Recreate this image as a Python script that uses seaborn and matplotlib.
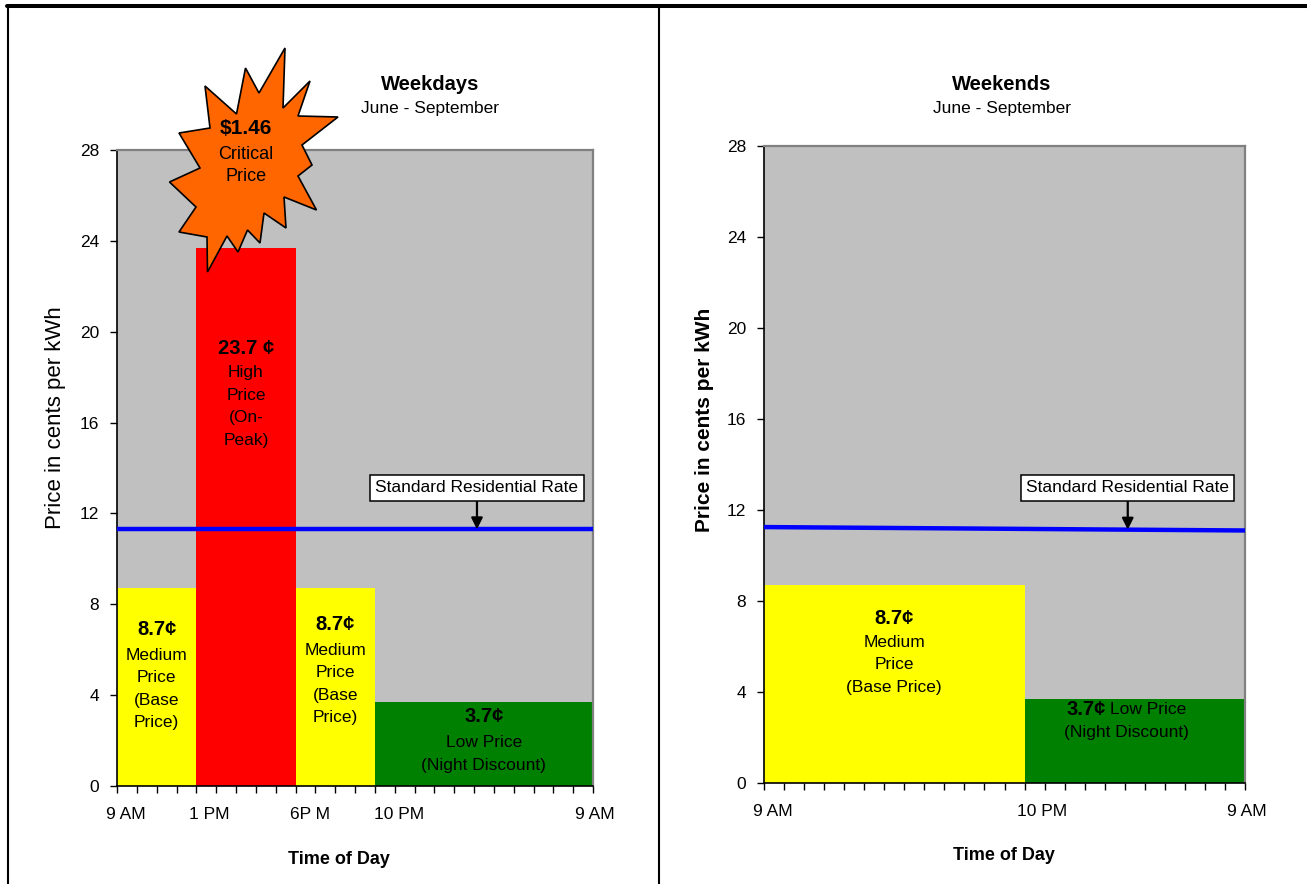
import numpy as np
import matplotlib
matplotlib.use("Agg")
import matplotlib.pyplot as plt
import seaborn as sns
from matplotlib.patches import Polygon
from matplotlib.lines import Line2D
from matplotlib.transforms import ScaledTranslation

# ---- data -------------------------------------------------------------
# Summer (June - September) time-of-use periods, as clock hours from 9 AM to 9 AM next day
weekday_edges = [9, 13, 18, 22, 33]
weekday_prices = [8.7, 23.7, 8.7, 3.7]          # cents per kWh
weekday_colors = ["#FFFF00", "#FF0000", "#FFFF00", "#008000"]
weekday_names = ["Medium\nPrice\n(Base\nPrice)", "High\nPrice\n(On-\nPeak)",
                 "Medium\nPrice\n(Base\nPrice)", "Low Price\n(Night Discount)"]
weekday_unit = ["¢", " ¢", "¢", "¢"]

weekend_edges = [9, 22, 33]
weekend_prices = [8.7, 3.7]
weekend_colors = ["#FFFF00", "#008000"]

# Standard residential rate (cents per kWh) across the day
weekday_standard = [11.3, 11.3]
weekend_standard = [11.25, 11.1]

critical_price = 1.46  # dollars per kWh

weekday_tick_hours = [9, 13, 18, 22, 33]
weekday_tick_labels = ["9 AM", "1 PM", "6P M", "10 PM", "9 AM"]
weekend_tick_hours = [9, 22, 33]
weekend_tick_labels = ["9 AM", "10 PM", "9 AM"]
y_ticks = [0, 4, 8, 12, 16, 20, 24, 28]

# ---- styling ----------------------------------------------------------
sns.set_theme(style="white")
plt.rcParams["font.family"] = ["Liberation Sans", "DejaVu Sans"]
plt.rcParams["text.color"] = "black"
plt.rcParams["axes.labelcolor"] = "black"
plt.rcParams["xtick.color"] = "black"
plt.rcParams["ytick.color"] = "black"

W, H = 1307, 884
fig = plt.figure(figsize=(W / 100, H / 100), dpi=100)
fig.patch.set_facecolor("white")


def fx(px):
    return px / W


def fy(py):
    return 1 - py / H


axL = fig.add_axes([fx(117), fy(786), (593 - 117) / W, (786 - 150) / H])
axR = fig.add_axes([fx(764), fy(783), (1245 - 764) / W, (783 - 146) / H])


def style_axes(ax, tick_hours, tick_labels, label_shift_px):
    ax.set_facecolor("#C0C0C0")
    ax.set_xlim(0, 24)
    ax.set_ylim(0, 28)
    for s in ["top", "right"]:
        ax.spines[s].set_color("#808080")
        ax.spines[s].set_linewidth(1.6)
        ax.spines[s].set_visible(True)
    for s in ["left", "bottom"]:
        ax.spines[s].set_color("black")
        ax.spines[s].set_linewidth(1.2)
        ax.spines[s].set_visible(True)
    ax.set_yticks(y_ticks)
    ax.set_yticklabels([str(v) for v in y_ticks])
    ax.set_xticks([h - 9 for h in tick_hours])
    ax.set_xticklabels(tick_labels)
    ax.set_xticks(np.arange(0, 25), minor=True)
    ax.tick_params(axis="both", which="both", direction="out", length=5,
                   width=1, color="black", labelsize=12.5, labelcolor="black")
    ax.tick_params(axis="x", which="both", bottom=True, pad=10)
    ax.tick_params(axis="y", which="major", left=True, pad=8)
    ax.set_xlabel("")
    ax.set_ylabel("")
    ax.grid(False)
    for lbl, dx in zip(ax.get_xticklabels(), label_shift_px):
        lbl.set_transform(lbl.get_transform() + ScaledTranslation(dx / 100, 0, fig.dpi_scale_trans))


def draw_periods(ax, edges, prices, colors):
    starts = np.array(edges[:-1]) - 9
    widths = np.diff(edges)
    ax.bar(starts, prices, width=widths, align="edge", color=colors,
           edgecolor="none", linewidth=0, zorder=2)
    return starts + widths / 2


def draw_standard(ax, rate, arrow_x, box_y):
    sns.lineplot(x=[0, 24], y=rate, ax=ax, color="#0000FF", linewidth=3.2,
                 zorder=3, legend=False)
    tip = np.interp(arrow_x, [0, 24], rate)
    ax.annotate("Standard Residential Rate", xy=(arrow_x, tip), xytext=(arrow_x, box_y),
                ha="center", va="center", fontsize=12.5, zorder=6,
                bbox=dict(boxstyle="square,pad=0.3", fc="white", ec="black", lw=1.1),
                arrowprops=dict(arrowstyle="-|>", color="black", lw=1.6,
                                mutation_scale=17, shrinkA=0, shrinkB=0))


DESC_SPACING = 1.63

# ---- weekdays ---------------------------------------------------------
centers = draw_periods(axL, weekday_edges, weekday_prices, weekday_colors)
draw_standard(axL, weekday_standard, 18.15, 13.12)
style_axes(axL, weekday_tick_hours, weekday_tick_labels, [9, 13, 15, 24, 2])

value_y = [6.87, 19.28, 7.09, 3.04]
name_y = [4.27, 16.71, 4.49, 1.41]
for cx, p, unit, name, vy, ny in zip(centers, weekday_prices, weekday_unit,
                                     weekday_names, value_y, name_y):
    axL.text(cx, vy, f"{p:.1f}{unit}", ha="center", va="center",
             fontsize=14.5, fontweight="bold", color="black", zorder=5)
    axL.text(cx, ny, name, ha="center", va="center", fontsize=12.5,
             linespacing=DESC_SPACING, color="black", zorder=5)

# ---- weekends ---------------------------------------------------------
centers = draw_periods(axR, weekend_edges, weekend_prices, weekend_colors)
draw_standard(axR, weekend_standard, 18.15, 12.97)
style_axes(axR, weekend_tick_hours, weekend_tick_labels, [9, 18, 2])

axR.text(centers[0], 7.21, f"{weekend_prices[0]:.1f}¢", ha="center", va="center",
         fontsize=14.5, fontweight="bold", color="black", zorder=5)
axR.text(centers[0], 5.19, "Medium\nPrice\n(Base Price)", ha="center", va="center",
         fontsize=12.5, linespacing=DESC_SPACING, color="black", zorder=5)
axR.text(centers[1] - 1.43, 3.25, f"{weekend_prices[1]:.1f}¢", ha="right", va="center",
         fontsize=14.5, fontweight="bold", color="black", zorder=5)
axR.text(centers[1] - 1.23, 3.25, "Low Price", ha="left", va="center",
         fontsize=12.5, color="black", zorder=5)
axR.text(centers[1] - 0.4, 2.2, "(Night Discount)", ha="center", va="center",
         fontsize=12.5, color="black", zorder=5)

# ---- critical-price burst ---------------------------------------------
burst_outline = [
    (285, 48), (283, 108), (310, 81), (298, 116), (338, 117), (302, 145),
    (312, 165), (298, 176), (316.5, 210), (284, 197), (286, 228), (264, 213),
    (260, 243), (247.5, 230), (238, 252), (227, 236), (207.5, 272), (207, 237),
    (179, 232), (196, 207), (169.5, 182), (200, 168), (179, 133), (210, 128),
    (205, 86), (236.5, 114), (245.5, 68), (259, 93),
]
burst = Polygon([(fx(x), fy(y)) for x, y in burst_outline], closed=True,
                transform=fig.transFigure, facecolor="#FF6600", edgecolor="black",
                linewidth=1.2, zorder=2)
fig.add_artist(burst)
fig.text(fx(246), fy(128), f"${critical_price:.2f}", ha="center", va="center",
         fontsize=15, fontweight="bold", color="black", zorder=4)
fig.text(fx(246), fy(165.5), "Critical\nPrice", ha="center", va="center",
         fontsize=13, linespacing=1.45, color="black", zorder=4)

# ---- titles and axis labels -------------------------------------------
fig.text(fx(430), fy(85), "Weekdays", ha="center", va="center",
         fontsize=14.5, fontweight="bold")
fig.text(fx(430), fy(109), "June - September", ha="center", va="center", fontsize=12.5)
fig.text(fx(1002), fy(84), "Weekends", ha="center", va="center",
         fontsize=14.5, fontweight="bold")
fig.text(fx(1002), fy(109), "June - September", ha="center", va="center", fontsize=12.5)

fig.text(fx(55), fy(418), "Price in cents per kWh", rotation=90,
         ha="center", va="center", fontsize=16)
fig.text(fx(705), fy(420), "Price in cents per kWh", rotation=90,
         ha="center", va="center", fontsize=15, fontweight="bold")
fig.text(fx(339), fy(860), "Time of Day", ha="center", va="center",
         fontsize=13, fontweight="bold")
fig.text(fx(1004), fy(855), "Time of Day", ha="center", va="center",
         fontsize=13, fontweight="bold")

# ---- panel frames -----------------------------------------------------
fig.add_artist(Line2D([fx(7), 1], [fy(6), fy(6)], transform=fig.transFigure,
                      color="black", linewidth=2.9))
fig.add_artist(Line2D([fx(8), fx(8)], [fy(5), 0], transform=fig.transFigure,
                      color="black", linewidth=1.5))
fig.add_artist(Line2D([fx(659), fx(659)], [fy(5), 0], transform=fig.transFigure,
                      color="black", linewidth=1.5))

fig.savefig("out.png", dpi=100)
